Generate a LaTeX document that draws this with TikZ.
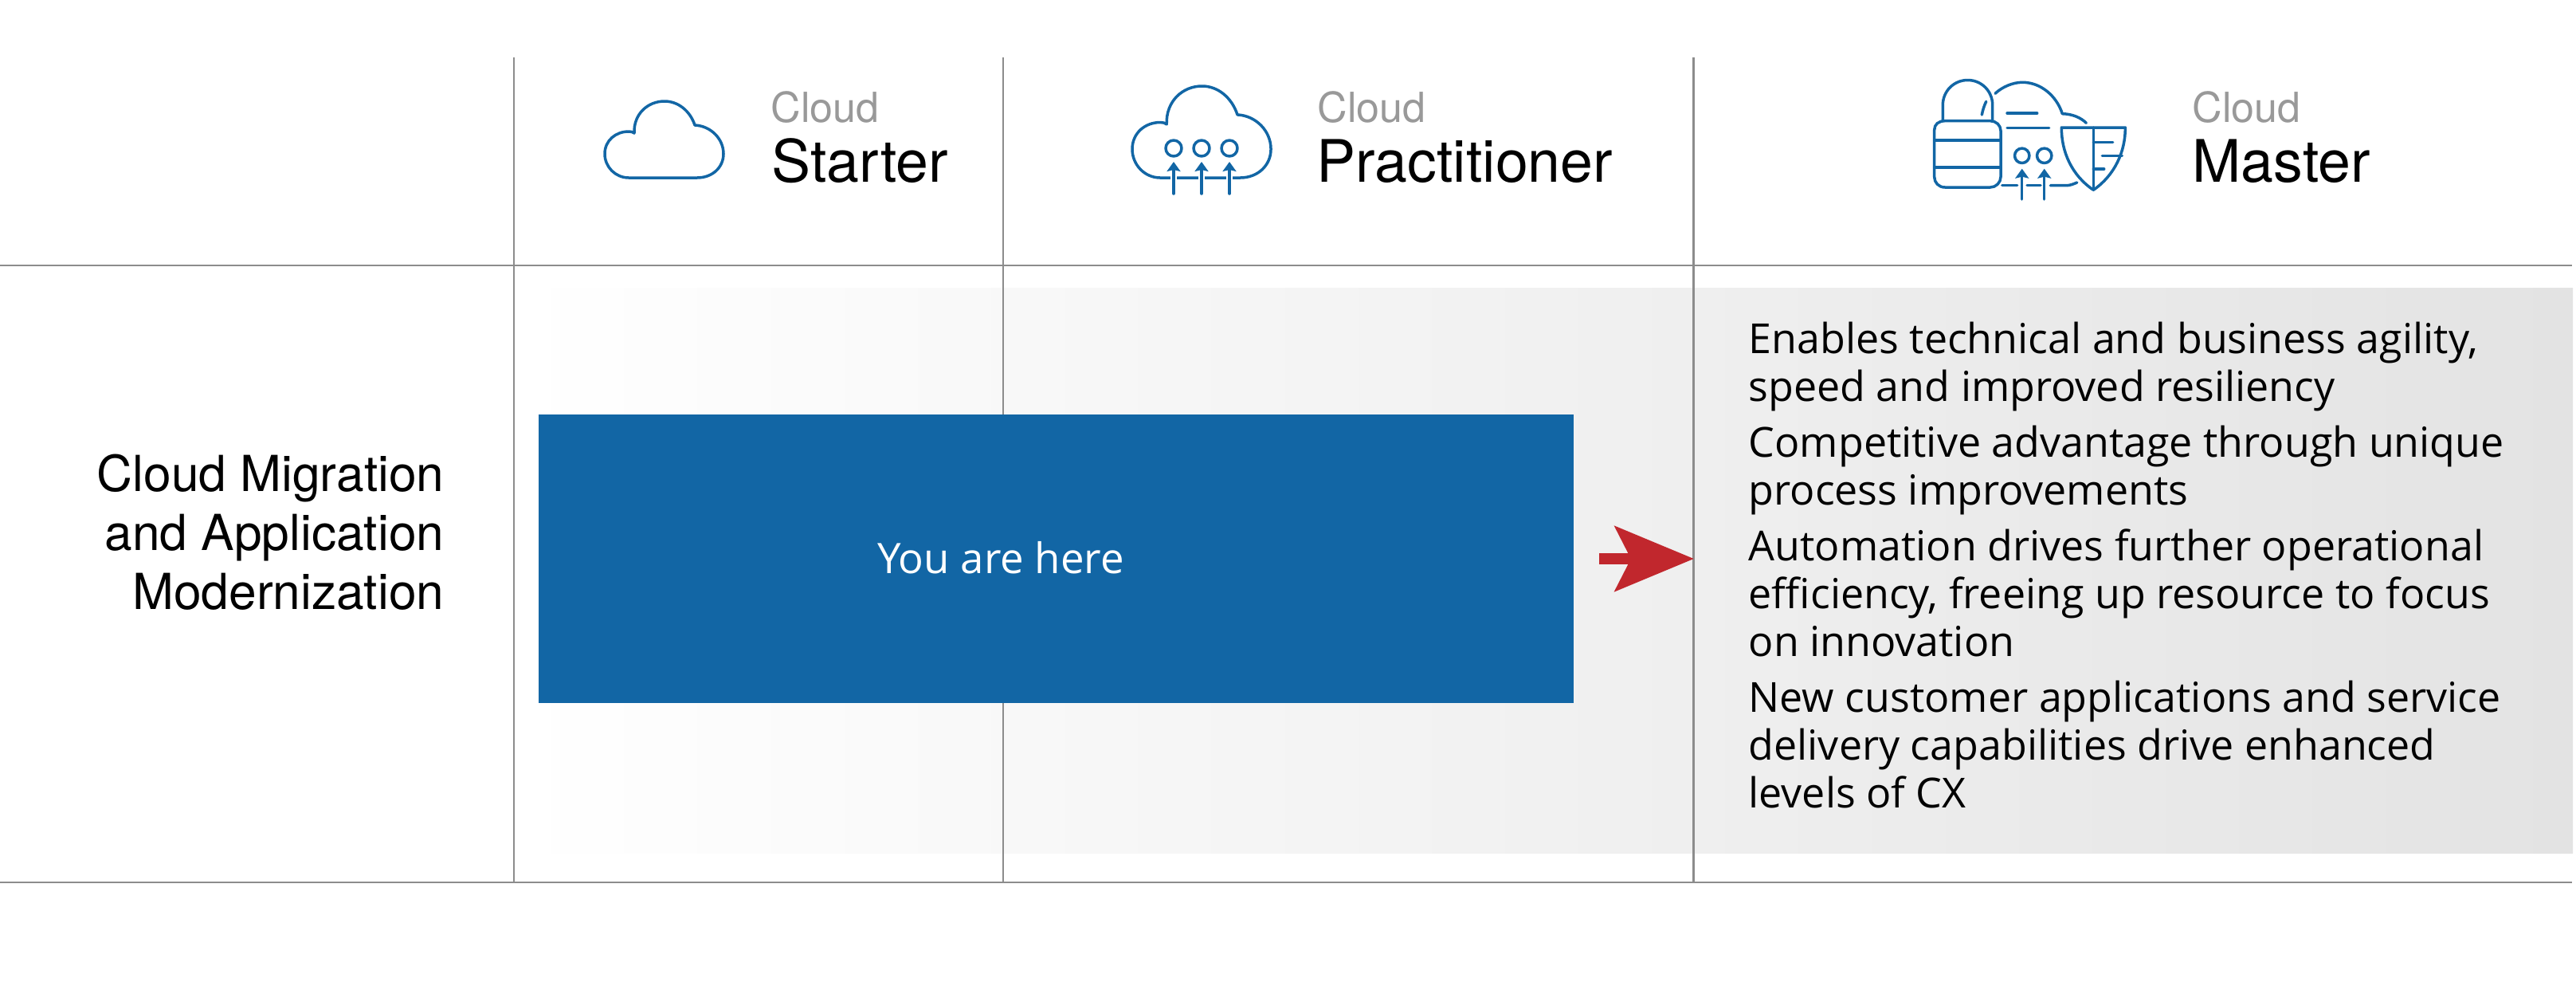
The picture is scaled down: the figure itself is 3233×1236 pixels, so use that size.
\documentclass[tikz,border=0pt]{standalone}
\usepackage{fontspec}
\setmainfont{Open Sans}
\setsansfont{TeX Gyre Heros}
\usetikzlibrary{arrows.meta}
\usetikzlibrary{positioning}
\definecolor{iconblue}{HTML}{1266A5}
\definecolor{gridgray}{HTML}{8C8C8C}
\definecolor{tiergray}{HTML}{999999}
\definecolor{arrowred}{HTML}{C1272D}
\tikzset{
  grid line/.style={draw=gridgray,line width=0.022cm},
  tier small/.style={anchor=base west,inner sep=0pt,text=tiergray,font=\sffamily\fontsize{14.8}{17}\selectfont},
  tier big/.style={anchor=base west,inner sep=0pt,text=black,font=\sffamily\fontsize{20.9}{24}\selectfont},
  row label/.style={anchor=east,inner sep=0pt,align=right,font=\sffamily\fontsize{17.7}{21}\selectfont},
  here box/.style={fill=iconblue,minimum width=12.99cm,minimum height=3.62cm,inner sep=0pt},
  body text/.style={anchor=north west,inner sep=0pt,align=left,font=\fontsize{14.77}{17.07}\selectfont},
  icon/.style={draw=iconblue,line width=0.035cm,line cap=round,line join=round},
  icon arrow/.style={icon,-{Stealth[length=0.12cm,width=0.17cm,inset=0.02cm]}},
  pics/cloud outline/.style={code={
    \draw[icon] (30,96) .. controls (13.5,96) and (0,82.5) .. (0,66)
      .. controls (0,49) and (14,38) .. (30,38)
      .. controls (33,38) and (35,38.5) .. (37,40)
      .. controls (36,16) and (54,0) .. (75,0)
      .. controls (92,0) and (107,12) .. (113,30)
      .. controls (133,31) and (149,47) .. (149,66)
      .. controls (149,83) and (135,96) .. (116,96) -- cycle;
  }},
}

\begin{document}
\begin{tikzpicture}[x=0.01cm,y=-0.01cm]
   \useasboundingbox (0,0) rectangle (3233,1236);

   \coordinate (top left) at (0,333);
   \coordinate (top right) at (3228,333);
   \coordinate (bottom left) at (0,1107);
   \coordinate (bottom right) at (3228,1107);
   \coordinate (starter top) at (645,72);
   \coordinate (starter foot) at (645,1107);
   \coordinate (practitioner top) at (1259,72);
   \coordinate (practitioner foot) at (1259,1107);
   \coordinate (master top) at (2125.5,72);
   \coordinate (master foot) at (2125.5,1107);
   \coordinate (arrow tail) at (2007,701);
   \coordinate (arrow head) at (2126,701);

   % gray band behind the last row
   \shade[left color=white,right color=black!11] (645,361) rectangle (3229,1070);

   \path[grid line]
   (top left) edge node {} (top right)
   (bottom left) edge node {} (bottom right)
   (starter top) edge node {} (starter foot)
   (practitioner top) edge node {} (practitioner foot)
   (master top) edge node {} (master foot);

   % headers
   \node[tier small] (cloud a) at (967,153) {Cloud};
   \node[tier big] (starter) at (968,228) {Starter};
   \node[tier small] (cloud b) at (1653,153) {Cloud};
   \node[tier big] (practitioner) at (1652,228) {Practitioner};
   \node[tier small] (cloud c) at (2751,153) {Cloud};
   \node[tier big] (master) at (2751,228) {Master};

   % icons
   \pic at (759,127) {cloud outline};

   \pic[xscale=1.168,yscale=1.198] at (1421,108) {cloud outline};
   \foreach \px in {1473,1508,1543} {
     \draw[draw=white,line width=0.08cm] (\px,220) -- (\px,226);
     \draw[icon] (\px,186) circle[radius=10];
     \draw[icon arrow] (\px,243) -- (\px,203);
   }

   \draw[icon] (2427.7,163) .. controls (2427.7,156) and (2433,151.7) .. (2441,151.7)
     -- (2498,151.7) .. controls (2505,151.7) and (2511,157) .. (2511,164)
     -- (2511,222) .. controls (2511,229) and (2505,235) .. (2498,235)
     -- (2441,235) .. controls (2433,235) and (2427.7,229) .. (2427.7,222) -- cycle;
   \draw[icon] (2427.7,176) -- (2511,176);
   \draw[icon] (2427.7,210) -- (2511,210);
   \draw[icon] (2438.3,151.7) -- (2438.3,131.7)
     .. controls (2438.3,114.5) and (2452,100.5) .. (2469.5,100.5)
     .. controls (2487,100.5) and (2500.7,114.5) .. (2500.7,131.7) -- (2500.7,151.7);
   \draw[icon] (2487.3,144) .. controls (2488.5,138) and (2490,133) .. (2492.7,127.3);
   \draw[icon] (2504,117.3) .. controls (2513,109) and (2526,103.3) .. (2538.3,103.3)
     .. controls (2561,103.3) and (2581,120) .. (2588.3,142.7)
     .. controls (2600,143) and (2611,147) .. (2618.3,154.3);
   \draw[icon] (2512.7,232.7) -- (2531.7,232.7);
   \draw[icon] (2544,232.7) -- (2561,232.7);
   \draw[icon] (2573.3,232.7) -- (2593.3,232.7) .. controls (2598,232.7) and (2602,231) .. (2606.7,229);
   \draw[icon] (2519,142) -- (2556.7,142);
   \draw[icon] (2519,160.7) -- (2571.7,160.7);
   \foreach \px in {2537.7,2565.7} {
     \draw[icon] (\px,195.3) circle[radius=9.2];
     \draw[icon arrow] (\px,250) -- (\px,211.7);
   }
   \draw[icon] (2587.3,160) -- (2667.3,160)
     .. controls (2667.6,190) and (2654,220) .. (2627.3,238.3)
     .. controls (2600,220) and (2587,190) .. (2587.3,160) -- cycle;
   \draw[icon] (2627.3,160) -- (2627.3,238.3);
   \draw[icon] (2627.3,178.3) -- (2651.7,178.3);
   \draw[icon] (2638.3,195.3) -- (2663.3,195.3);
   \draw[icon] (2627.3,212) -- (2640.7,212);

   % row
   \node[row label] (migration) at (558,668) {Cloud Migration\\and Application\\Modernization};
   \node[here box] (here) at (1325.5,701) {};
   \node[text=white,inner sep=0pt,font=\fontsize{15}{17}\selectfont] (here text) at (1256,700) {You are here};
   \draw[arrowred,line width=0.14cm,-{Stealth[length=0.99cm,width=0.81cm,inset=0.2cm]}] (arrow tail) -- (arrow head);
   \node[body text] (benefits) at (2194,403) {Enables technical and business agility,\\
     speed and improved resiliency\\[2.85pt]
     Competitive advantage through unique\\
     process improvements\\[2.85pt]
     Automation drives further operational\\
     efficiency, freeing up resource to focus\\
     on innovation\\[2.85pt]
     New customer applications and service\\
     delivery capabilities drive enhanced\\
     levels of CX};
\end{tikzpicture}
\end{document}
